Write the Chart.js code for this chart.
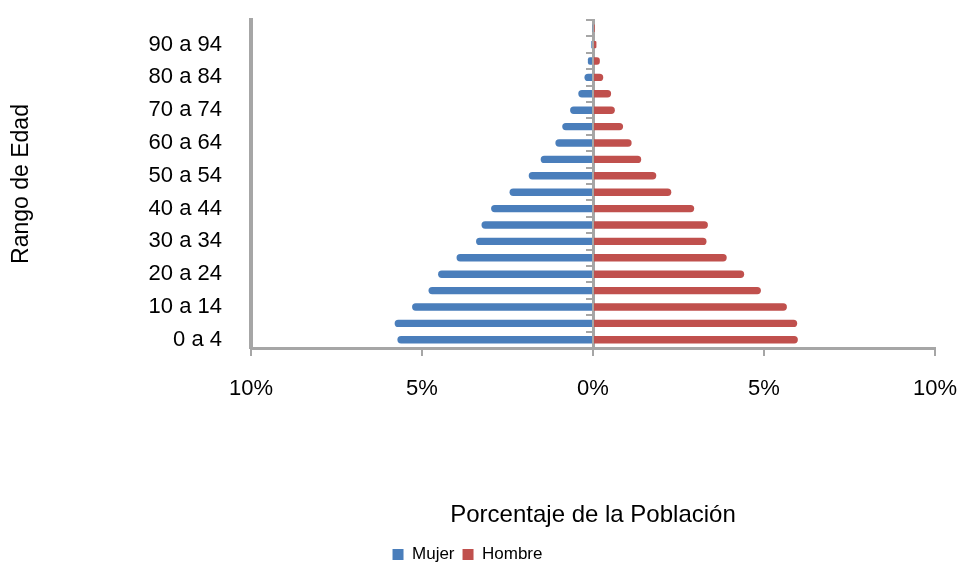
<!DOCTYPE html>
<html>
<head>
<meta charset="utf-8">
<script src="https://cdn.jsdelivr.net/npm/chart.js@4.4.1/dist/chart.umd.min.js"></script>
<style>
  html, body { margin: 0; padding: 0; background: #fff; }
  #wrap { width: 960px; height: 573px; }
</style>
</head>
<body>
<div id="wrap"><canvas id="myChart" width="960" height="573"></canvas></div>
<script>
const ageGroups = ['0 a 4', '5 a 9', '10 a 14', '15 a 19', '20 a 24', '25 a 29', '30 a 34', '35 a 39',
  '40 a 44', '45 a 49', '50 a 54', '55 a 59', '60 a 64', '65 a 69', '70 a 74', '75 a 79',
  '80 a 84', '85 a 89', '90 a 94', '95 a 99'];

// percentages
const mujer = [5.72, 5.80, 5.29, 4.81, 4.53, 3.99, 3.42, 3.26, 2.98, 2.44,
  1.88, 1.53, 1.10, 0.90, 0.67, 0.43, 0.25, 0.15, 0.05, 0.02];
const hombre = [5.99, 5.97, 5.67, 4.91, 4.42, 3.91, 3.32, 3.36, 2.96, 2.29,
  1.85, 1.41, 1.13, 0.88, 0.64, 0.53, 0.30, 0.20, 0.10, 0.05];

const xTicks = [-10, -5, 0, 5, 10];

const FONT = "'Liberation Sans', Arial, sans-serif";
const AXIS_GRAY = '#a6a6a6';

const ctx = document.getElementById('myChart').getContext('2d');

new Chart(ctx, {
  type: 'bar',
  data: {
    labels: ageGroups,
    datasets: [
      {
        label: 'Mujer',
        data: mujer.map(v => -v),
        backgroundColor: '#4a7ebb',
        borderRadius: 4,
        borderSkipped: 'start',
        barPercentage: 0.45,
        categoryPercentage: 1,
        yAxisID: 'y'
      },
      {
        label: 'Hombre',
        data: hombre,
        backgroundColor: '#c0504d',
        borderRadius: 4,
        borderSkipped: 'start',
        barPercentage: 0.45,
        categoryPercentage: 1,
        yAxisID: 'y'
      }
    ]
  },
  options: {
    indexAxis: 'y',
    responsive: false,
    animation: false,
    layout: { padding: { top: 20, right: 25, left: 0, bottom: 0 } },
    scales: {
      x: {
        stacked: true,
        min: -10,
        max: 10,
        afterBuildTicks: s => { s.ticks = xTicks.map(v => ({ value: v })); },
        afterFit: s => { s.height = 190; s.paddingLeft = 0; s.paddingRight = 0; },
        ticks: {
          callback: v => Math.abs(v) + '%',
          color: '#000',
          padding: 20,
          maxRotation: 0,
          font: { family: FONT, size: 22 }
        },
        grid: { drawOnChartArea: false, color: AXIS_GRAY, tickLength: 8, lineWidth: 2 },
        border: { color: AXIS_GRAY, width: 3 },
        title: {
          display: true,
          text: 'Porcentaje de la Población',
          color: '#000',
          font: { family: FONT, size: 24 },
          padding: { top: 100, bottom: 8 }
        }
      },
      y: {
        stacked: true,
        reverse: true,
        position: 'left',
        afterFit: s => { s.width = 251; s.paddingTop = 0; s.paddingBottom = 0; },
        ticks: {
          autoSkip: false,
          callback: function (v, i) { return i % 2 === 0 ? this.getLabelForValue(v) : ''; },
          color: '#000',
          padding: 21,
          font: { family: FONT, size: 22 }
        },
        grid: { display: false },
        border: { color: AXIS_GRAY, width: 4 },
        title: {
          display: true,
          text: 'Rango de Edad',
          color: '#000',
          font: { family: FONT, size: 23 },
          padding: { top: 8, bottom: 0 }
        }
      },
      yc: {
        type: 'category',
        reverse: true,
        position: { x: 0 },
        offset: true,
        ticks: { display: false },
        grid: { drawOnChartArea: false, offset: true, color: AXIS_GRAY, tickLength: 6, lineWidth: 2 },
        border: { color: AXIS_GRAY, width: 3 }
      }
    },
    plugins: {
      legend: {
        position: 'bottom',
        labels: {
          color: '#000',
          boxWidth: 11,
          boxHeight: 11,
          padding: 8,
          font: { family: FONT, size: 17 }
        }
      },
      tooltip: { enabled: false }
    }
  }
});
</script>
</body>
</html>
